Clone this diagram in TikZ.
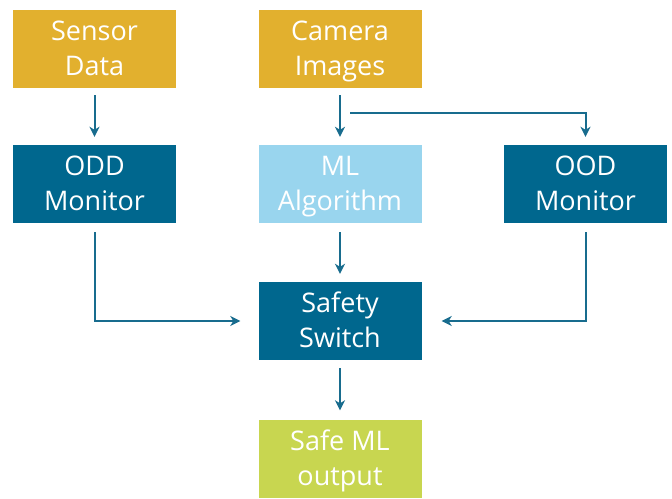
\documentclass[tikz,border=0pt]{standalone}
\usepackage{fontspec}
\setmainfont{Open Sans}
\usetikzlibrary{positioning,arrows.meta}
\definecolor{gold}{RGB}{226,176,46}
\definecolor{petrol}{RGB}{0,103,142}
\definecolor{skyblue}{RGB}{153,213,238}
\definecolor{lime}{RGB}{200,214,80}
\definecolor{wire}{RGB}{24,108,142}
\newcommand{\linestrut}{\rule[-8.5pt]{0pt}{35pt}}
\newcommand{\twolines}[2]{\linestrut#1\\\linestrut#2}
\tikzset{
  blk/.style={minimum width=163pt,minimum height=78pt,inner sep=0pt,align=center,
              text=white,font=\fontsize{27}{35}\selectfont},
  srcblk/.style={blk,fill=gold},
  monblk/.style={blk,fill=petrol},
  algblk/.style={blk,fill=skyblue},
  outblk/.style={blk,fill=lime},
  flow/.style={wire,line width=2pt,-{Stealth[length=10pt,width=10pt,inset=3pt]}}
}
\begin{document}
\begin{tikzpicture}[x=1pt,y=-1pt]
    \useasboundingbox (0,0) rectangle (672,498);
    \node[srcblk] (S) at (94.5,49) {\twolines{Sensor}{Data}};
    \node[srcblk] (C) at (340,49) {\twolines{Camera}{Images}};
    \node[monblk] (ODD) at (94.5,184) {\twolines{ODD}{Monitor}};
    \node[algblk] (ML) at (340,184) {\twolines{ML}{Algorithm}};
    \node[monblk] (OOD) at (585.5,184) {\twolines{OOD}{Monitor}};
    \node[monblk] (SW) at (340,321) {\twolines{Safety}{Switch}};
    \node[outblk] (OUT) at (340,458.5) {\twolines{Safe ML}{output}};
    \coordinate (split) at (350,113);
    \draw[flow,shorten <=7pt,shorten >=8pt] (S) -- (ODD);
    \draw[flow,shorten <=7pt,shorten >=8pt] (C) -- (ML);
    \draw[flow,shorten >=8pt] (split) -| (OOD.north);
    \draw[flow,shorten <=9pt,shorten >=8pt] (ML) -- (SW);
    \draw[flow,shorten <=9pt,shorten >=18pt] (ODD.south) |- (SW.west);
    \draw[flow,shorten <=9pt,shorten >=20pt] (OOD.south) |- (SW.east);
    \draw[flow,shorten <=8pt,shorten >=9pt] (SW) -- (OUT);
  \end{tikzpicture}
\end{document}
